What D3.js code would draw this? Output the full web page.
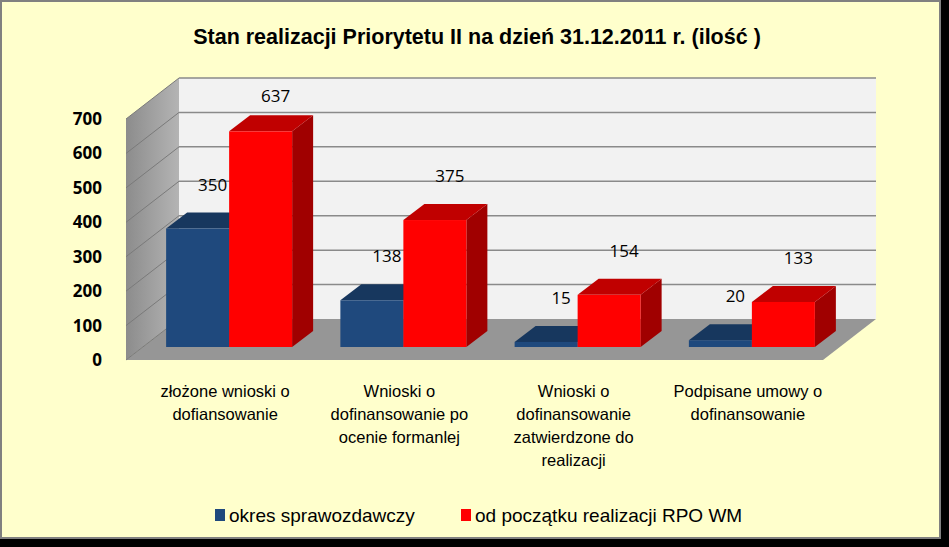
<!DOCTYPE html>
<html><head><meta charset="utf-8">
<script src="https://cdn.jsdelivr.net/npm/d3@7"></script>
<style>body{margin:0;background:#000}svg{display:block}</style>
</head><body>
<script>
const categories = [["złożone wnioski o","dofiansowanie"],["Wnioski o","dofinansowanie po","ocenie formanlej"],["Wnioski o","dofinansowanie","zatwierdzone do","realizacji"],["Podpisane umowy o","dofinansowanie"]];
const seriesNames = ["okres sprawozdawczy","od początku realizacji RPO WM"];
const okres = [350,138,15,20];
const odPoczatku = [637,375,154,133];
const ticks = [0,100,200,300,400,500,600,700];

const W=949,H=547;
const font="'Liberation Sans',sans-serif";
const svg=d3.select("body").append("svg").attr("width",W).attr("height",H);
svg.append("rect").attr("width",W).attr("height",H).attr("fill","#000");
svg.append("rect").attr("x",1).attr("y",1).attr("width",939).attr("height",537).attr("fill","#ffffcc").attr("stroke","#808080").attr("stroke-width",2);

const DX=53, DY=-41;
const yFront=d3.scaleLinear().domain([0,700]).range([360,119]);
const yBack=v=>yFront(v)+DY;
const xL=126, xR=823;
svg.append("rect").attr("x",xL+DX).attr("y",yBack(700)).attr("width",xR-xL).attr("height",yBack(0)-yBack(700)).attr("fill","#f2f2f2");
const sg=svg.append("defs").append("linearGradient").attr("id","sg");
sg.append("stop").attr("offset","0").attr("stop-color","#8c8c8c");
sg.append("stop").attr("offset","1").attr("stop-color","#b4b4b4");
svg.append("polygon").attr("points",[[xL,yFront(0)],[xL+DX,yBack(0)],[xL+DX,yBack(700)],[xL,yFront(700)]].join(" ")).attr("fill","url(#sg)");
svg.append("polygon").attr("points",[[xL,yFront(0)],[xR,yFront(0)],[xR+DX,yBack(0)],[xL+DX,yBack(0)]].join(" ")).attr("fill","#969696");
ticks.forEach(t=>{
  if(t>0) svg.append("line").attr("x1",xL+DX).attr("x2",xR+DX).attr("y1",yBack(t)).attr("y2",yBack(t)).attr("stroke","#8a8a8a").attr("stroke-width",1.5);
  svg.append("line").attr("x1",xL).attr("x2",xL+DX).attr("y1",yFront(t)).attr("y2",yBack(t)).attr("stroke","#7a7a7a").attr("stroke-width",1);
  svg.append("text").attr("x",102).attr("y",yFront(t)+6).attr("text-anchor","end").attr("font-family","'Open Sans',sans-serif").attr("font-weight","bold").attr("font-size",17).attr("fill","#000").text(t);
});

const x=d3.scaleBand().domain(d3.range(4)).range([xL+16,xR+16]);
const sub=d3.scaleBand().domain([0,1]).range([0,126]);
const off=(x.bandwidth()-126)/2;
const y0=347;
const yb=d3.scaleLinear().domain([0,700]).range([y0,y0-237]);
const bdx=21,bdy=-16;
const cols=[["#1f497d","#17375e","#2a4f80"],["#ff0000","#c00000","#a00000"]];
const series=[okres,odPoczatku];
series.forEach((vals,s)=>{
  vals.forEach((v,i)=>{
    const bx=x(i)+off+sub(s), bw=sub.bandwidth(), ty=yb(v);
    const g=svg.append("g");
    g.append("polygon").attr("points",[[bx+bw,y0],[bx+bw+bdx,y0+bdy],[bx+bw+bdx,ty+bdy],[bx+bw,ty]].join(" ")).attr("fill",cols[s][2]);
    g.append("polygon").attr("points",[[bx,ty],[bx+bdx,ty+bdy],[bx+bw+bdx,ty+bdy],[bx+bw,ty]].join(" ")).attr("fill",cols[s][1]);
    g.append("rect").attr("x",bx).attr("y",ty).attr("width",bw).attr("height",y0-ty).attr("fill",cols[s][0]);
  });
});
series.forEach((vals,s)=>{
  vals.forEach((v,i)=>{
    const bx=x(i)+off+sub(s)+sub.bandwidth()/2+bdx-6;
    const ly=Math.max(yb(v)+bdy-22,102);
    svg.append("text").attr("x",bx).attr("y",ly).attr("text-anchor","middle").attr("font-family","'Open Sans',sans-serif").attr("font-size",17).attr("fill","#000").text(v);
  });
});

categories.forEach((lines,i)=>{
  const cx=x(i)+x.bandwidth()/2-4;
  lines.forEach((l,j)=>svg.append("text").attr("x",cx).attr("y",397+j*23).attr("text-anchor","middle").attr("font-family",font).attr("font-size",16.5).attr("fill","#000").text(l));
});

svg.append("text").attr("x",477).attr("y",44).attr("text-anchor","middle").attr("font-family",font).attr("font-weight","bold").attr("font-size",21.5).attr("fill","#000").text("Stan realizacji Priorytetu II na dzień 31.12.2011 r. (ilość )");

const lx=[215,461];
seriesNames.forEach((n,s)=>{
  svg.append("rect").attr("x",lx[s]).attr("y",509).attr("width",10).attr("height",12).attr("fill",cols[s][0]);
  svg.append("text").attr("x",lx[s]+14).attr("y",522).attr("font-family",font).attr("font-size",19).attr("fill","#000").text(n);
});
</script>
</body></html>
